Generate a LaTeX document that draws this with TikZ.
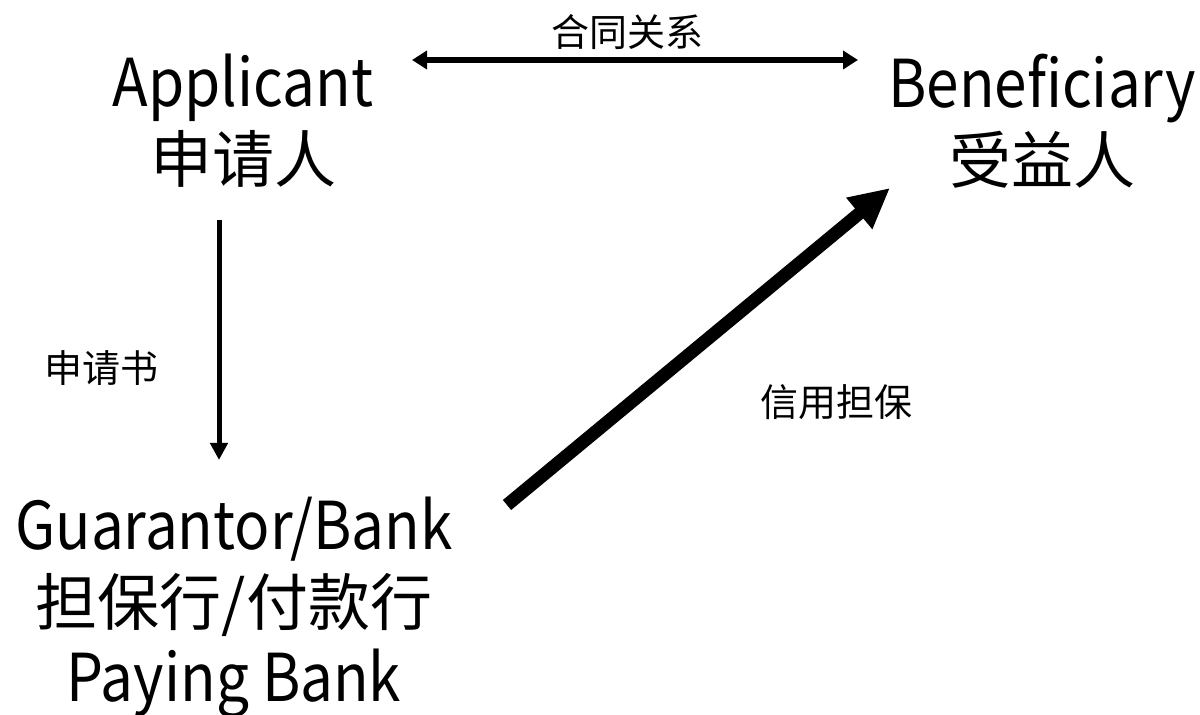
\documentclass[tikz,border=0pt]{standalone}
\usepackage{fontspec}
\setmainfont{Noto Sans CJK SC}
\newfontfamily\latinfont[Scale=1.065,FakeStretch=0.885]{Noto Sans CJK SC}
\usetikzlibrary{arrows.meta}
\tikzset{
  party/.style={align=center, inner sep=0pt, font=\fontsize{31}{38}\selectfont},
  note/.style={inner sep=0pt, font=\fontsize{19}{22}\selectfont},
}
\begin{document}
\begin{tikzpicture}[x=0.5pt,y=-0.5pt]
  \useasboundingbox (0,0) rectangle (1200,715);
  % parties
  \node[party] (applicant) at (243,121) {{\latinfont Applicant}\\申请人};
  \node[party] (beneficiary) at (1042,121) {{\latinfont Beneficiary}\\受益人};
  \node[party] (bank) at (234,607) {{\latinfont Guarantor/Bank}\\担保行/付款行\\{\latinfont Paying Bank}};
  % arrow ends
  \coordinate (contractL) at (412,60);
  \coordinate (contractR) at (858,60);
  \coordinate (applyTop) at (219,220);
  \coordinate (applyEnd) at (219,460);
  \coordinate (creditStart) at (507,505);
  \coordinate (creditEnd) at (890,188);
  % labels
  \node[note] (contract) at (627,32) {合同关系};
  \node[note] (letter) at (101,368) {申请书};
  \node[note] (credit) at (836,402) {信用担保};
  % connectors
  \draw[line width=3pt, {Triangle[length=7.5pt,width=9pt]}-{Triangle[length=7.5pt,width=9pt]}] (contractL) -- (contractR);
  \draw[line width=2.5pt, -{Triangle[length=8.5pt,width=8.5pt]}] (applyTop) -- (applyEnd);
  \draw[line width=6.5pt, -{Triangle[length=20pt,width=19pt]}] (creditStart) -- (creditEnd);
\end{tikzpicture}
\end{document}
